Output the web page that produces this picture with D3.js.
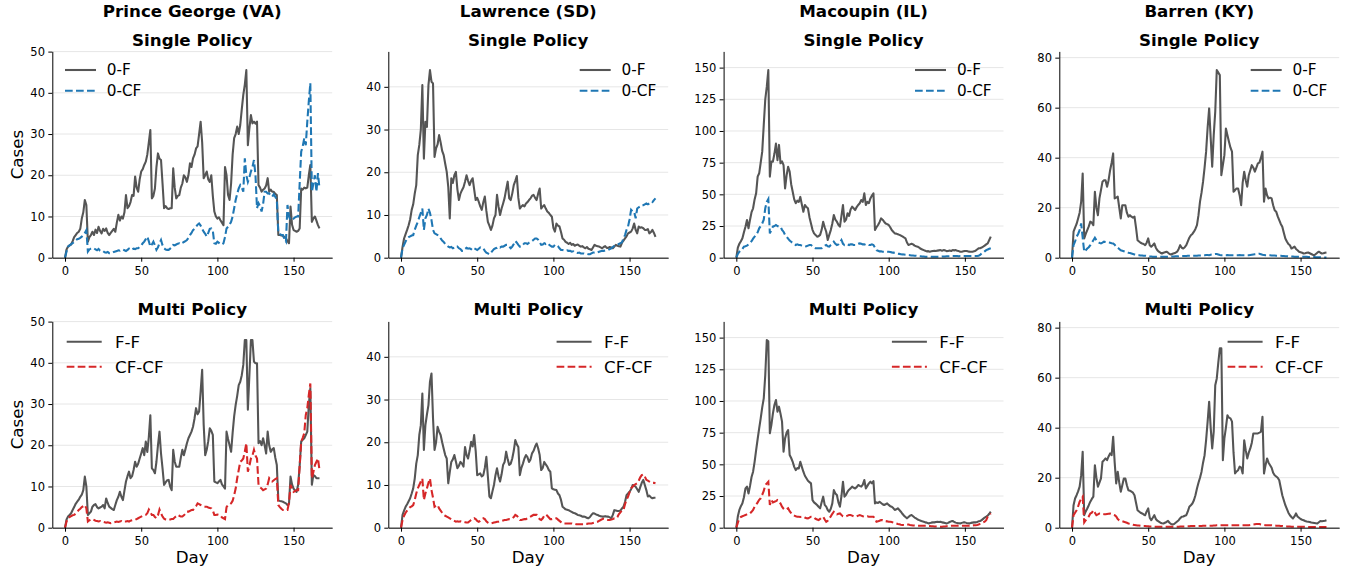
<!DOCTYPE html>
<html><head><meta charset="utf-8">
<script src="https://cdn.jsdelivr.net/npm/d3@7"></script>
<style>body{margin:0;background:#fff} svg{display:block;font-family:"DejaVu Sans",sans-serif}</style>
</head><body><svg id="c" width="1353" height="576"></svg>
<script>
const counties = ["Prince George (VA)", "Lawrence (SD)", "Macoupin (IL)", "Barren (KY)"];
const rowTitles = ["Single Policy", "Multi Policy"];
const singleLabels = ["0-F", "0-CF"];
const multiLabels = ["F-F", "CF-CF"];
const dayTicks = [0, 50, 100, 150];
const yTicks = [[0,10,20,30,40,50],[0,10,20,30,40],[0,25,50,75,100,125,150],[0,20,40,60,80]];

// ---- Prince George (VA) ----
const pgSingleF = [0,2,2.7,3,3.2,4,5,5.5,6,6.3,7,9.5,
11,14,12.8,3.9,5,5.5,6.3,5.5,6.8,6,7.5,6.5,
5.9,7,6.5,7.1,6,5.5,6,6.5,7,6.3,8.5,10.4,
9,10,9.5,11,15.2,12,12.5,13.5,15.2,15,19.7,17,
16,19,20.9,21.5,22.5,23.3,25,28,31,14.4,15,16.8,
22,25.3,24,23.7,18,12,12.5,12,11.8,12,12,21.7,
17,14.4,15,15.2,17,18,20,19.5,18.4,20,22.9,22,
24.1,25,26.5,27,30,33,28,19.3,20,20.9,19,18.4,
20,15,11.2,10,9.5,9.8,9.1,8.5,7.9,22,20,15.2,
14,18,25,29,30,31.8,30,32.2,36,39.5,42,45.5,
27.3,31.4,34.6,32.6,33,32.5,33,17.6,17,16,16.5,16.8,
17.5,19.3,16,16.5,16,16,15.5,15.2,5.5,5.5,5.4,5.3,
5,4.7,4,3.5,12.4,8,6.7,6.5,6.3,6.5,7.1,16.8,
16.5,17,16.8,17,20,22.5,8.7,9.5,10,9,7.9,7.1];
const pgSingleCF = [0,1.5,2.7,3,3.3,3.5,3.9,4.2,4.5,4.6,4.8,5.1,
5.5,6,6.7,1.5,2,2.2,2.3,2.3,2,1.8,2.1,1.7,
1.5,1.6,1.3,1.2,1.4,1.1,1.1,1.2,1.4,1.5,1.6,1.8,
1.7,1.9,2,1.8,1.6,1.9,2.2,1.9,2,2.2,2.1,2.3,
2.3,2.6,3,3.5,3.9,4.5,5.1,4,2.7,3.2,3.9,3,
1.9,2.5,3.5,4.3,3,2.3,2,1.9,1.9,2.2,2.5,3.1,
3,3.2,3.4,3.5,3.3,3.6,3.8,4,4.3,4.8,5.5,6,
6.7,7,7.5,8,8.3,7.8,7,6.3,5.8,5.1,6,7,
7.1,6.5,3.5,3.4,3.9,3.6,3.3,3.2,3.5,5,7.1,7.5,
8,8.7,10,12,14,15.5,16.8,17.6,17,16,24.1,20,
18.4,19.5,20.9,22,23.7,20,12,13.2,12.5,11.2,13,16,
16,15.6,15.6,15,14.8,15.4,14.8,14,5.9,5.7,5.5,5.5,
4.5,3.9,12.8,10,9.1,9.3,9.5,9.8,10,10,18,25.7,
27,29,27.3,33,38,42.3,16,18,20,16,20.5,16.8];
const pgMultiF = [0,2,2.7,3.1,3.5,4.3,5,5.8,6.3,6.8,7.5,8,
9.1,12.4,10,3.1,3.5,3.9,5.1,5.5,5.7,5,4.7,4.9,
5.1,5.5,4.7,7.1,6,5.1,4.8,4.5,4.3,5.5,6.7,7.5,
8.7,7.5,6.7,9,11.2,12.5,13.6,12,12.5,14,16,14.8,
15.5,16.8,18,19.3,17.6,20.9,18.4,22,27.3,14.4,14,13.2,
16,20,23.3,18,14.4,10.4,11,11.5,11.6,10,9.1,18.9,
16,14.8,14.8,14.8,17,18.9,17.6,19,20.5,21.7,22.5,23.3,
24.5,26.5,29,27.5,28.2,33,38.3,25,17.6,18.9,21,24.1,
23.5,22.5,11.2,11,10.8,11.2,11.6,10.5,10,9.5,23.3,21.5,
20,18.4,23,27,29.8,32,34.6,35.4,37,39.5,45.5,45.5,
28.6,37,45.5,45.5,40.3,39.9,39.9,20.5,21,20,21.7,20,
18,23.3,20,18.4,19,19.3,17,15.2,6.7,6.5,6.4,6.3,
6.1,5.9,5.5,5.8,12.4,10.5,9.5,9,8.7,10.4,15,20.9,
21.3,21.7,22.5,23.3,29.8,33.8,10.4,12.8,12.5,12,12,12];
const pgMultiCF = [0,1.5,2.3,2.6,2.8,3,3.1,3.4,3.8,4.3,4.6,5,
5.2,5.5,4.7,1.5,1.8,2,2.1,1.9,1.7,1.6,1.5,1.6,
1.4,1.4,1.3,1.2,1.3,1.2,1.1,1.2,1.3,1.4,1.5,1.4,
1.5,1.6,1.4,1.5,1.5,1.6,1.5,1.7,1.8,1.9,1.9,2.1,
2.3,2.5,2.7,2.9,3,3.1,3.5,4.4,3.8,3.1,3.1,2.6,
2.3,3,4.4,3.5,2.7,2.2,2,1.9,1.9,2,2.1,2.1,
2.5,2.8,3.1,2.9,2.7,2.7,3,3.4,3.9,3.9,4.1,4.3,
4.3,4.8,5.2,5.9,5.7,5.5,5.3,5.2,5.1,5.1,4.9,4.8,
4.7,4.2,3.1,3.1,3.2,3.1,3,2.5,2.3,2.1,5,5.5,
5.6,5.9,6.5,7.9,9.5,12,14,16,16.3,16.8,18.5,20.5,
13.6,15,16.8,17.5,18.9,17.5,16.8,10.4,9.8,9.5,9.1,9.3,
9.5,10.5,12,11.5,11.2,11.5,11.8,12,5.5,5,4.6,4.3,
4.3,4.3,4.3,6,10.4,9.5,8.7,8.9,9.1,9.1,15,20.9,
21.8,22.9,27.3,29,32.2,35,12,13.5,15.2,16,16.8,14];

// ---- Lawrence (SD) ----
const lwSingleF = [0,2.5,4.5,5.5,6.5,7.6,9,11.2,12.5,15,17,24,
26.4,30,40.4,23.2,31.8,30.6,40.4,43.9,41.2,40.8,23.6,25.6,
26.5,28.7,27,25,24,22,20.1,16.6,9.2,18.6,17.5,19.3,
20.1,16,13.5,15,15.8,16.5,17.8,19.3,18,17,18,18.6,
16,13.5,14,13.1,12,11.2,13,14.3,11,8.4,7.5,6.5,
7.5,9.2,10,14.7,12,10,11.5,12.7,14,16,17.8,13.9,
13.5,15,17,18,19.1,14,11.5,12,12.3,12,12.7,13,
13.5,13.9,14.5,14.7,14,13.5,15,16.2,11.5,12,12.3,11.5,
10.8,10.5,10,9.6,7,6.1,8,7.5,7.3,6,4.5,4.2,
3.7,3.5,3.2,3.5,3,3.2,2.8,3,3.1,2.8,2.6,2.7,
2.4,2.2,2.5,2.1,2,1.8,2.4,3,2.8,2.7,2.6,2.4,
2.2,2.5,2.7,2.3,2.3,2.5,2.4,2.2,2.6,3,2.8,2.7,
2.6,3.5,4,4.5,5,5.7,5.9,6.1,6.8,8,6.5,5.7,
7.3,7,7.1,6.9,6.5,6.5,6.7,5.7,6,6.5,5.8,4.9];
const lwSingleCF = [0,2.2,3,3.8,4.5,4.8,5,5.2,5.3,6.5,7.5,8.4,
9.5,10.5,11.5,6.5,9.2,10,11.5,10.5,8.8,6.5,5.7,5.5,
5.3,5,4.5,4,3.7,3.2,2.9,2.6,2.4,2.5,2.2,2.4,
2.3,2.6,2.2,2,1.6,1.6,2,2.3,2.1,2.2,2,2.4,
2.2,2,1.8,2.1,2.4,2.2,2.2,1.6,1.2,1,0.8,1.2,
1.6,2,2.2,2.3,2.6,2.4,2.6,2.6,2.8,3,3,2.6,
2.2,2.6,3.2,3.9,3.5,3,2.6,2.6,3,3.4,3.4,3.2,
3.5,3.7,3.9,4.2,4.5,4.5,4.2,3.6,3,3.1,3.4,3.2,
3.4,3.1,2.8,2.6,2.6,3,3,2.7,2.2,1.8,1.8,1.7,
1.6,1.7,1.6,1.6,1.4,1.5,1.2,1.2,1.1,1.2,1,1,
1,0.9,0.9,0.8,0.8,1,1.2,1.2,1.3,1.2,1.4,1.5,
1.6,1.6,1.7,1.8,1.8,2,2.2,2.5,2.8,3,3,3.2,
3.4,3.6,4.5,5.3,6.5,7.3,9,11.2,10.8,10.8,9.2,11.5,
11.8,12,12.3,12.3,12.5,12.7,12.5,12.7,13.1,13,13.5,13.9];
const lwMultiF = [0,3,4,4.9,5.5,6.2,6.9,8,9.2,11.5,15,17,
21.7,24,31.4,18.2,24,26.5,28.7,34.2,36.1,25.6,18.2,20,
23.6,22.5,21.7,20,18.5,17,16.2,10.4,13,15.4,16,17,
15.5,13.9,14.5,15.4,15,14.3,18.9,17,16.2,18,20.1,19,
21.7,18,12.3,12.5,12.7,12,12.3,14,16.6,12,7.3,6.9,
8.5,10,12.3,13.9,12,10.8,12.5,14.7,15.4,17.8,16,14.7,
15,16.2,18,20.5,19.5,18.9,12.3,14,15,16.2,17,16.5,
15.4,16,17.4,18,19,19.7,18.6,17,13.5,14,15.4,14.8,
14.3,13.5,13.1,9.2,9,8.9,8.8,8,7.6,6.5,4.9,4.6,
4.3,4.2,4.1,3.9,3.7,3.5,3.4,3.2,3,2.9,2.8,2.6,
2.6,2.5,2.3,2.2,2.5,3,3.4,3.3,3.1,3,2.8,2.7,
2.6,2.6,2.7,2.6,2.6,2.4,2.2,3,4.1,4,3.9,3.9,
4,4.5,4.9,6,7.6,8,8.4,9,10,9.8,9.6,9,
8.4,9.5,10.5,11.2,10,8.8,7.3,7.5,7.1,6.9,7,7];
const lwMultiCF = [0,1.8,2.8,3.5,4,4.5,4.8,5,5.3,6.5,8,9.2,
10,10.8,11.5,6.5,8,9.2,10.5,11.5,8.8,7,4.9,5.1,
5.3,4.5,4,3.5,3,2.8,2.6,2.4,2.2,2,1.8,1.6,
1.4,1.5,1.4,1.5,1.4,1.4,1.3,1.2,1.2,1.5,1.8,2,
2.2,2,1.6,1.4,1.6,1.9,2.2,2,1.5,1.2,1,1,
1.1,1.2,1.3,1.4,1.4,1.5,1.6,1.7,1.8,1.8,1.9,2,
2,2.2,2.5,3,2.8,2.4,1.8,1.8,1.9,2,2,2.2,
2.4,2.6,2.8,3,3,3,2.5,2,1.8,2.2,2.8,3.1,
2.8,2.4,2,2,2.1,2.2,2.2,1.9,1.6,1.3,1,1,
1,1,1,1,1,0.9,0.9,0.8,0.8,0.8,0.8,0.8,
0.8,0.9,0.9,1,1,1,1.1,1.2,1.3,1.4,1.6,1.8,
2,2.1,2,1.9,1.8,1.8,1.9,2,2.2,2.2,2.5,3.2,
3.6,4.1,4.1,5.5,6.5,7.3,8.3,9.2,9.6,10,10.2,10.4,
11,11.8,12.3,12.5,12,11.2,11,10.8,10.6,10.5,10.5,10.4];

// ---- Macoupin (IL) ----
const mcSingleF = [0,8,11,13,15.3,20,24.5,29.7,23.2,30,36,39,
46,50.8,64,66.6,75,83.7,104.7,125,135,148,64,75.8,
75.8,82,90,77,89,74.5,76,73,54.7,65,71.8,68,
58,52,46,43,45,44,48,42,36.3,41.6,40,39,
32,27,22,19.2,18,16.6,17,18,22,28.4,24,20.5,
14,18,21.8,27,33.7,30,28.4,26,24.5,33,41.6,28.4,
30,35,33,38,40.3,39,37.6,40,41.6,43,45.5,44,
50.8,41.6,44,43,46.8,49,50.8,21.8,24,25.8,28,31,
30,28.4,27,26.5,25.8,24,21.8,20.5,19.2,19,18.5,18,
17.5,16.8,16,15.3,12,10,10.5,11,10.5,9.5,9,8.7,
8,7,6.5,6,5.5,5,5.2,4.7,5,5.3,5.5,5.3,
5.6,5.8,6,5.5,6,5.8,5.2,5.3,5.6,5.3,6,5.8,
6,5.5,5.2,4.7,4.7,5,5.3,5.3,5,4.8,4.7,4.7,
5,5.5,6.5,7.4,7.5,8,8.7,9.5,10.5,11.3,14,16.6];
const mcSingleCF = [0,3,4.7,6,7,8.7,9,9.5,10.5,11.5,13,15,
16.6,18,20,23.2,25,27,30,39,44,46.3,19.2,22,
24.5,25,25.8,25,24.5,24.5,22,20.5,18,16.6,15,13.5,
12.6,11.5,11,10,10.5,10,10,9.5,9,8.7,9,9.5,
10,10,9,8,7.4,7.4,7.5,7.4,7.4,8.5,9.5,10,
9,8.7,10,11,12.6,11,10,10.5,12,14,11,10,
10.5,10.5,10,10.5,10.5,10,10,10.5,11,11.3,11,10.5,
10.5,10,10.5,10,10,10.5,10,8,6,5.5,5,5,
4.7,4.7,4.8,4.7,4.7,4.5,4.2,4,3.8,3.4,3.2,3,
2.8,2.6,2.5,2.3,2.2,2.1,2,1.8,1.7,1.6,1.6,1.4,
1.2,1.1,1,0.9,0.8,0.8,0.8,0.8,0.7,0.8,0.8,0.8,
0.8,0.8,0.8,0.9,1,1,1.1,1.2,1.2,1.3,1.3,1.3,
1.3,1.3,1.2,1.3,1.3,1.3,1.3,1.3,1.3,1.3,1.3,1.3,
1.3,1.3,1.3,1.5,2.2,3.4,4,5,6,6.5,7,7.4];
const mcMultiF = [0,9,14,17,19.2,24,31,32.4,27,33,40,44.2,
52,61.3,70,78.4,86.3,95,102,120.5,148,147,74.5,81,
90,96.8,100.8,91.6,95.5,90,83.7,60,70.5,75,77,57.4,
55,52,48,45.5,47,46.8,52,48,44.2,41,39,37,
36,35,21.8,20,19,17.9,16.5,15.3,20,24.5,18,16.6,
14,12.6,15,19.2,29.7,27,25.8,20,16.6,25,36.3,24.5,
26,28.4,30,31,32.4,31.5,31,32,33.7,33,32.4,34,
37.6,31,33,35,36.3,35,36.8,19.2,20,19.5,20.5,19.5,
18.5,17.9,18.5,19.2,18,17,16.6,15.5,14,14.5,15.3,14,
12.6,11,9.5,8.5,7.4,8.5,9.5,10,9,8,7.4,6.5,
6,5.5,5,4.7,4.2,4,3.4,3.6,4,4.2,4.2,4.5,
4.7,4.5,4.7,4.2,4,3.7,3.4,3.8,4.5,5,5.3,4.5,
4,3.6,3.5,3.4,3.8,4.2,4.2,3.8,3.5,3.4,3.8,4,
4.2,4.2,4.5,5,5.3,6,7,8,8.7,9.5,11,12.6];
const mcMultiCF = [0,4,7.4,8.5,9,9.5,10,10.5,11,11.3,12.5,14,
16.6,18,20,22,23.2,26,29,33.7,35,36.3,17.9,21.8,
20,20.5,21,21.8,21,19,16.6,15,14,14.5,15.3,13,
11.5,10,9.5,9,8.7,8.7,8.5,8.7,8.7,8,7.5,7.4,
8,8.7,8.7,8,7,6.5,6,7,8,8.7,6.5,4.7,
5.5,7.4,9,11,12.6,11.5,10.5,11,11.3,10,9,8.7,
9,9.5,10,10,9.5,9,8.7,9,9.5,10,9.5,9,
8.7,8.7,9,8.7,8.7,8.7,8.7,7,4.7,5,5.5,6,
6,5.5,5.2,5,4.7,4.7,4.5,4,3.7,3.4,3,2.7,
2.4,2.2,2.1,2.3,2.6,2.5,2.2,2,1.8,1.7,1.6,1.6,
1.6,1.6,1.5,1.6,1.6,1.6,1.4,1.3,1.2,1.1,1,1,
0.9,0.8,0.8,0.8,0.9,1,1.2,1.3,1.4,1.5,1.6,1.6,
1.6,1.6,1.6,1.5,1.5,1.6,1.6,1.6,1.6,1.6,1.7,1.8,
1.9,2,2.1,2.5,3,3.5,4.2,4.7,6,8.7,10,11.3];

// ---- Barren (KY) ----
const bnSingleF = [0,10.4,12,13.5,15.7,18,22.4,33.7,7.7,9.5,11,12.5,
14.4,14,13,26.4,20,17,23.7,27,30.4,31,31,28.4,
31,35,38,41.7,23.7,24,24.4,20,15.7,21,21,21,
18,16.4,17,16.4,16,16.4,12,7,6.5,6,5.7,5.5,
5,6,7.7,5,4.4,5,5.7,4,3,2.4,2,1.7,
2,2.2,2.4,2,1.5,1.3,1.6,1.8,2,2.4,3.5,5,
4,3.7,4.2,5,6.5,8,9,9.5,10.4,11.5,13,17,
22.4,26,30.4,36,42.4,52,59.7,48,36.4,49,58.4,75,
74,73,33,37,41,51.7,49,46.4,44,42.4,26.4,27,
27.7,27.7,25,21,30,34.4,31,28.4,33,35,37,36,
34.4,36,37.7,38,40,42.4,22.4,27.7,25,23.7,24,23.7,
21,19,18.4,16.5,15,13.5,12.4,10,7.7,6.5,5.5,5,
3.7,4,4.4,3.5,3,2.4,2.2,2,1.7,1.8,2,2.1,
1.8,1.5,1.2,1,1.5,2,2.4,2,1.7,1.8,2,2.1];
const bnSingleCF = [0,5,6.5,8.4,9.5,11,13.7,8,2.4,3,3.7,4.2,
5,6,7,8,7,6.4,5.9,5.7,6,6.4,6.3,6.2,
6.1,6,5.8,5.7,5.2,4.4,4,3.5,3,2.8,2.6,2.4,
2.2,2,1.9,1.7,1.5,1.3,1.2,1,1,0.9,0.9,0.8,
0.8,0.7,0.6,0.5,0.5,0.4,0.4,0.4,0.4,0.4,0.4,0.4,
0.4,0.4,0.4,0.4,0.4,0.5,0.5,0.5,0.6,0.6,0.6,0.7,
0.7,0.7,0.7,0.7,0.8,0.8,0.8,0.8,0.8,0.8,0.8,0.9,
0.9,0.9,1,1,1.1,1.1,1,1.2,1.3,1.4,1.5,1.5,
1.3,1.1,1,1,1,1,1.1,1,1,1,1,1,
1,1,1.1,1,1,1,1,1,1,1.1,1.2,1.3,
1.4,1.5,1.5,1.6,1.4,1.2,1.1,1,1,1,1,0.9,
0.9,0.9,0.8,0.8,0.8,0.8,0.7,0.7,0.6,0.6,0.5,0.5,
0.5,0.5,0.4,0.4,0.4,0.4,0.4,0.4,0.4,0.4,0.4,0.3,
0.3,0.3,0.3,0.3,0.2,0.2,0.2,0.2,0.1,0.1,0.1,0.1];
const bnMultiF = [0,9,11.7,13,14.5,16.4,21,30.4,5,6.5,7.7,9,
10.4,11.5,12.4,25,20,16.4,18,19.7,26.4,27,27.7,27,
28.5,29.7,29,36.4,26,17.7,22.4,18,14.4,17,19.7,19.7,
17,15,14.8,14.4,14,13,10,7,6.5,6,5.7,5.3,
5,6.5,7.7,4,3,4,5,3.5,2.8,2.4,2,1.8,
1.7,2,2.3,2.7,2,1.5,1.3,1.5,2,2.5,3,3.8,
4.4,4.5,4.8,5,6.5,8.4,9,9.7,11,13,15.7,18,
20,22.4,26,29,35,42.4,50.4,40,31.7,38.4,57,59.7,
66,71.7,71.7,27,35.7,40,45,44,43.7,42.4,30,21.7,
22.5,23,24.4,24,21.7,35,31,27.7,30,31.7,34,37.7,
37.7,37.7,37.7,38,38.4,44.4,21.7,25,27.7,26,25,24,
22,21,20.5,20,19,16,13,11,9,7.5,6,5,
4.3,3.7,4.5,5.7,4.5,4,3.5,3.2,3,2.7,2.5,2.4,
2.3,2.1,2,1.9,1.8,1.7,2.2,2.7,2.6,2.7,2.8,3];
const bnMultiCF = [0,5,6,7,8.5,10.4,11.5,12.4,2.1,3,3.7,4.5,
5.7,6,7,6,5,5.3,5.7,5.7,5.5,5.4,5.4,5.5,
5.6,5.7,5.5,5.2,5,4.5,3.5,3,2.8,2.6,2.4,2.2,
2,1.7,1.6,1.4,1.2,1.1,1,0.9,0.9,0.8,0.8,0.7,
0.7,0.6,0.6,0.5,0.5,0.5,0.4,0.4,0.4,0.4,0.4,0.4,
0.4,0.4,0.4,0.4,0.4,0.4,0.4,0.4,0.4,0.4,0.4,0.5,
0.5,0.5,0.5,0.6,0.6,0.6,0.7,0.7,0.7,0.7,0.7,0.7,
0.7,0.7,0.8,0.8,0.8,0.8,0.8,0.8,0.8,0.9,0.9,1,
1,1,1,1,1,1,1,1,1,1,1,1,
1,1,1,1,1,1,1,1,1,1.1,1.2,1.3,
1.4,1.5,1.5,1.5,1.3,1.2,1.1,1,1,1,1,1,
0.9,0.9,0.8,0.8,0.8,0.7,0.7,0.6,0.6,0.5,0.5,0.5,
0.4,0.4,0.4,0.4,0.4,0.4,0.4,0.4,0.4,0.4,0.3,0.3,
0.3,0.3,0.3,0.3,0.3,0.3,0.3,0.3,0.3,0.3,0.3,0.3];

// ---------- layout ----------
const axLeft = [52.3, 388.3, 723.6, 1059.3], axW = 279.9;
const rowTop = [51.4, 321.4], axH = 206.3;
const GRAY = "#555555", BLUE = "#1f77b4", RED = "#d62728";

const cols = [
  [[pgSingleF, pgSingleCF], [pgMultiF, pgMultiCF]],
  [[lwSingleF, lwSingleCF], [lwMultiF, lwMultiCF]],
  [[mcSingleF, mcSingleCF], [mcMultiF, mcMultiCF]],
  [[bnSingleF, bnSingleCF], [bnMultiF, bnMultiCF]]
];

const svg = d3.select("#c");

cols.forEach((rows, c) => {
  const L = axLeft[c], R = L + axW;
  const yMax = 1.1 * d3.max(rows.flat().flat());
  const x = d3.scaleLinear().domain([-8.35, 175.35]).range([L, R]);
  rows.forEach((pair, r) => {
    const T = rowTop[r], B = T + axH;
    const y = d3.scaleLinear().domain([0, yMax]).range([B, T]);
    const g = svg.append("g");
    // grid
    g.append("g").selectAll("line").data(yTicks[c]).join("line")
      .attr("x1", L).attr("x2", R)
      .attr("y1", d => y(d)).attr("y2", d => y(d))
      .attr("stroke", "#e6e6e6").attr("stroke-width", 1);
    const line = d3.line().x((d, i) => x(i)).y(d => y(d));
    g.append("path").datum(pair[0]).attr("d", line)
      .attr("fill", "none").attr("stroke", GRAY).attr("stroke-width", 2.08)
      .attr("stroke-linejoin", "round");
    g.append("path").datum(pair[1]).attr("d", line)
      .attr("fill", "none").attr("stroke", r === 0 ? BLUE : RED).attr("stroke-width", 2.08)
      .attr("stroke-dasharray", "7.7,3.3");
    // axes
    const ya = g.append("g").attr("transform", `translate(${L},0)`)
      .call(d3.axisLeft(y).tickValues(yTicks[c]).tickSize(4).tickSizeOuter(0).tickPadding(3.3));
    const xa = g.append("g").attr("transform", `translate(0,${B})`)
      .call(d3.axisBottom(x).tickValues(dayTicks).tickFormat(d3.format("d")).tickSize(4).tickSizeOuter(0).tickPadding(5));
    [ya, xa].forEach(a => {
      a.selectAll("text").attr("font-size", 11.5).attr("font-family", "DejaVu Sans").attr("fill", "#000");
      a.selectAll("line").attr("stroke", "#000");
      a.select(".domain").attr("stroke", "#000");
    });
    // titles
    if (r === 0) {
      svg.append("text").attr("x", (L + R) / 2).attr("y", 17).attr("text-anchor", "middle")
        .attr("font-weight", "bold").attr("font-size", 16.7).text(counties[c]);
      svg.append("text").attr("x", (L + R) / 2).attr("y", 45.5).attr("text-anchor", "middle")
        .attr("font-weight", "bold").attr("font-size", 16.7).text(rowTitles[0]);
    } else {
      svg.append("text").attr("x", (L + R) / 2).attr("y", 315).attr("text-anchor", "middle")
        .attr("font-weight", "bold").attr("font-size", 16.7).text(rowTitles[1]);
      svg.append("text").attr("x", (L + R) / 2).attr("y", B + 35.6).attr("text-anchor", "middle")
        .attr("font-size", 16.7).text("Day");
    }
    if (c === 0) {
      svg.append("text").attr("transform", `translate(22.5,${(T + B) / 2}) rotate(-90)`)
        .attr("text-anchor", "middle").attr("font-size", 16.7).text("Cases");
    }
    // legend
    const labels = r === 0 ? singleLabels : multiLabels;
    const fs = r === 0 ? 15.3 : 16.7;
    const ys = r === 0 ? [T + 18.6, T + 39.3] : [T + 20.3, T + 45.3];
    let x0, x1, tx;
    if (c === 0) {
      if (r === 0) { x0 = L + 12.7; x1 = L + 43.7; tx = L + 54.4; }
      else { x0 = L + 14.4; x1 = L + 49.4; tx = L + 62.7; }
    } else {
      if (r === 0) { x0 = R - 88.5; x1 = R - 57.5; tx = R - 46.6; }
      else { x0 = R - 111.6; x1 = R - 76.6; tx = R - 64.2; }
    }
    const lg = g.append("g");
    [0, 1].forEach(k => {
      lg.append("line").attr("x1", x0).attr("x2", x1).attr("y1", ys[k]).attr("y2", ys[k])
        .attr("stroke", k === 0 ? GRAY : (r === 0 ? BLUE : RED)).attr("stroke-width", 2.08)
        .attr("stroke-dasharray", k === 0 ? null : "7.7,3.3");
      lg.append("text").attr("x", tx).attr("y", ys[k]).attr("dy", "0.35em")
        .attr("font-size", fs).text(labels[k]);
    });
  });
});
</script></body></html>
